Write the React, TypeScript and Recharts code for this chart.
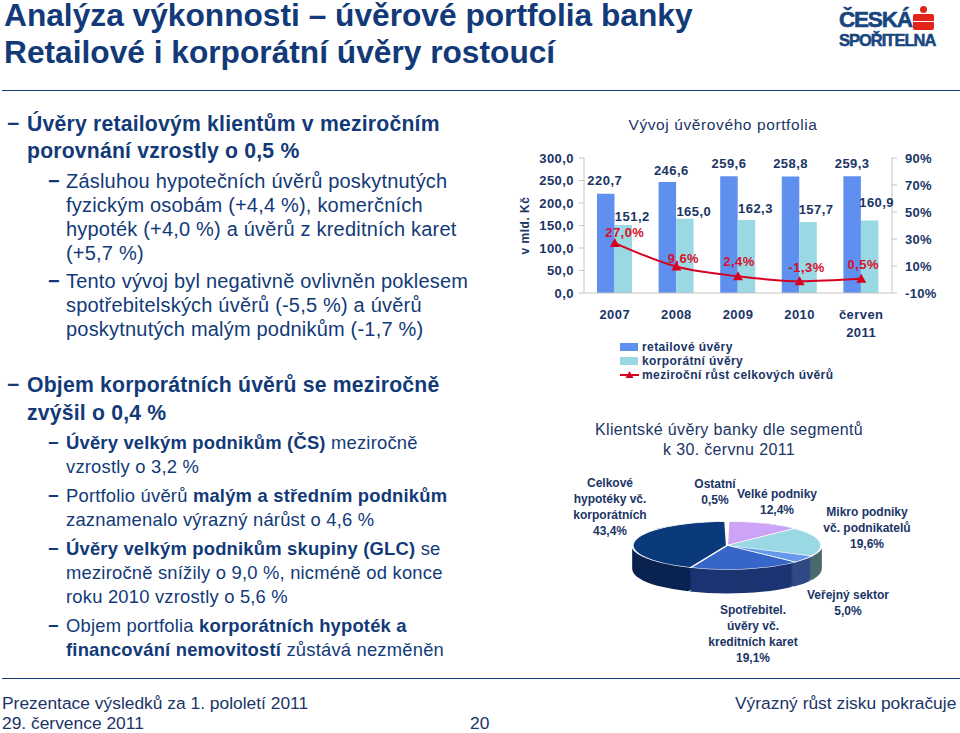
import { Bar, ComposedChart, LabelList, Legend, Line, Pie, PieChart, XAxis, YAxis } from "recharts"

const NAVY = "#1a3566"
const TITLE = "#123a78"
const FONT = "'Liberation Sans', Arial, sans-serif"

// combo chart data
const years = ["2007", "2008", "2009", "2010", "červen 2011"]
const retail = [220.7, 246.6, 259.6, 258.8, 259.3]
const corporate = [151.2, 165.0, 162.3, 157.7, 160.9]
const growth = [27.0, 9.6, 2.4, -1.3, 0.5]
const leftTicks = [0, 50, 100, 150, 200, 250, 300]
const rightTicks = [-10, 10, 30, 50, 70, 90]
const bandEdges = [0, 1, 2, 3, 4, 5]

// pie data, clockwise from the top
const segmentNames = [
  ["Ostatní"],
  ["Velké podniky"],
  ["Mikro podniky", "vč. podnikatelů"],
  ["Veřejný sektor"],
  ["Spotřebitel.", "úvěry vč.", "kreditních karet"],
  ["Celkové", "hypotéky vč.", "korporátních"],
]
const segmentValues = [0.5, 12.4, 19.6, 5.0, 19.1, 43.4]
const segmentTop = ["#ffffff", "#cda3f5", "#9ad8e4", "#6699ee", "#3566c8", "#0a3a7c"]
const segmentWall = ["#ffffff", "#7e5ca0", "#4c6a70", "#2f4a85", "#1c3472", "#0a2350"]

const comboData = years.map((year, i) => ({
  year,
  retail: retail[i],
  corporate: corporate[i],
  growth: growth[i],
}))
const pieData = segmentNames.map((n, i) => ({
  name: n.join(" "),
  value: segmentValues[i],
  fill: segmentTop[i],
}))
const wallData = pieData.map((d, i) => ({ ...d, fill: segmentWall[i] }))

// label nudges for the combo chart, as on the slide
const retailNudge = [[-1, -13], [4, -12], [0, -13], [0, -13], [0, -13]]
const corporateNudge = [[9, -8], [9, -7], [9, -11], [8, -13], [7, -18]]
const growthNudge = [[10, -11], [7, -8], [1, -15], [7, -14], [2, -14]]
// x center, first line y
const segmentLabelPos = [[715, 484], [777, 494], [867, 512], [848, 595], [753, 610], [610, 483]]

const comma = (v: number, digits = 1) => v.toFixed(digits).replace(".", ",")

type Run = { t: string; b?: boolean }
type BodyLine = { x: number; y: number; size: number; dash?: number; runs: Run[] }

const L1 = 21.2
const L2A = 20
const L2 = 18.4
const body: BodyLine[] = [
  { x: 27, y: 124, size: L1, dash: 7, runs: [{ t: "Úvěry retailovým klientům v meziročním", b: true }] },
  { x: 27, y: 151, size: L1, runs: [{ t: "porovnání vzrostly o 0,5 %", b: true }] },
  { x: 66, y: 181, size: L2A, dash: 48, runs: [{ t: "Zásluhou hypotečních úvěrů poskytnutých" }] },
  { x: 66, y: 205, size: L2A, runs: [{ t: "fyzickým osobám (+4,4 %), komerčních" }] },
  { x: 66, y: 229, size: L2A, runs: [{ t: "hypoték (+4,0 %) a úvěrů z kreditních karet" }] },
  { x: 66, y: 253, size: L2A, runs: [{ t: "(+5,7 %)" }] },
  { x: 66, y: 281, size: L2A, dash: 48, runs: [{ t: "Tento vývoj byl negativně ovlivněn poklesem" }] },
  { x: 66, y: 305, size: L2A, runs: [{ t: "spotřebitelských úvěrů (-5,5 %) a úvěrů" }] },
  { x: 66, y: 329, size: L2A, runs: [{ t: "poskytnutých malým podnikům (-1,7 %)" }] },
  { x: 27, y: 385, size: L1, dash: 7, runs: [{ t: "Objem korporátních úvěrů se meziročně", b: true }] },
  { x: 27, y: 413, size: L1, runs: [{ t: "zvýšil o 0,4 %", b: true }] },
  { x: 66, y: 443, size: L2, dash: 48, runs: [{ t: "Úvěry velkým podnikům (ČS) ", b: true }, { t: "meziročně" }] },
  { x: 66, y: 467, size: L2, runs: [{ t: "vzrostly o 3,2 %" }] },
  { x: 66, y: 496, size: L2, dash: 48, runs: [{ t: "Portfolio úvěrů " }, { t: "malým a středním podnikům", b: true }] },
  { x: 66, y: 520, size: L2, runs: [{ t: "zaznamenalo výrazný nárůst o 4,6 %" }] },
  { x: 66, y: 549, size: L2, dash: 48, runs: [{ t: "Úvěry velkým podnikům skupiny (GLC) ", b: true }, { t: "se" }] },
  { x: 66, y: 573, size: L2, runs: [{ t: "meziročně snížily o 9,0 %, nicméně od konce" }] },
  { x: 66, y: 597, size: L2, runs: [{ t: "roku 2010 vzrostly o 5,6 %" }] },
  { x: 66, y: 626, size: L2, dash: 48, runs: [{ t: "Objem portfolia " }, { t: "korporátních hypoték a", b: true }] },
  { x: 66, y: 650, size: L2, runs: [{ t: "financování nemovitostí ", b: true }, { t: "zůstává nezměněn" }] },
]

function Txt({ x, y, size, bold, color = NAVY, center, spacing = 0, leading = 1.2, children }: any) {
  return (
    <div
      style={{
        position: "absolute",
        left: x,
        top: y,
        fontSize: size,
        fontWeight: bold ? 700 : 400,
        color,
        letterSpacing: spacing,
        whiteSpace: "pre",
        lineHeight: leading,
        transform: center ? "translate(-50%,-50%)" : "translateY(-50%)",
      }}
    >
      {children}
    </div>
  )
}

const chartText = { fontFamily: FONT, fontSize: 13, fontWeight: 700, letterSpacing: 0.45, fill: NAVY }

function nudgedLabel(nudge: number[][], format: (v: number) => string, color: string) {
  return (props: any) => {
    const { x, y, width = 0, value, index } = props
    return (
      <text
        x={x + width / 2 + nudge[index][0]}
        y={y + nudge[index][1]}
        textAnchor="middle"
        dominantBaseline="central"
        {...chartText}
        fill={color}
      >
        {format(value)}
      </text>
    )
  }
}

function YearTick({ x, y, payload }: any) {
  const parts = String(payload.value).split(" ")
  return (
    <text textAnchor="middle" {...chartText}>
      {parts.map((p, i) => (
        <tspan key={p} x={x} y={y + 18 + i * 18}>{p}</tspan>
      ))}
    </text>
  )
}

function Triangle({ cx, cy }: any) {
  return <path d={`M${cx} ${cy - 5}L${cx + 5} ${cy + 4}L${cx - 5} ${cy + 4}Z`} fill="#d8001f" />
}

function LegendBox({ payload }: any) {
  return (
    <div>
      {(payload ?? []).map((item: any) => (
        <div key={item.value} style={{ position: "relative", height: 14, width: 260, paddingLeft: 22, fontSize: 12, fontWeight: 700, letterSpacing: 0.4, color: NAVY, lineHeight: "14px", whiteSpace: "nowrap" }}>
          {item.type === "line" ? (
            <svg width={20} height={14} style={{ position: "absolute", left: 0, top: 0 }}>
              <path d="M0 7H19" stroke="#d8001f" strokeWidth={2} />
              <path d="M9.5 3L13.5 10H5.5Z" fill="#d8001f" />
            </svg>
          ) : (
            <div style={{ position: "absolute", left: 0, top: 3, width: 18, height: 8, background: item.color }} />
          )}
          {item.value}
        </div>
      ))}
    </div>
  )
}

function PortfolioChart() {
  return (
    <div style={{ position: "absolute", left: 510, top: 130 }}>
      <ComposedChart
        width={450}
        height={260}
        data={comboData}
        margin={{ top: 28, right: 0, bottom: 18, left: 0 }}
        barSize={17.5}
        barGap={0}
      >
        {/* tick marks sit on the category edges, so they get their own numeric axis */}
        <XAxis xAxisId="edges" type="number" domain={[0, 5]} ticks={bandEdges} height={0} tick={() => <g />} tickSize={4} axisLine={false} stroke="#c4c4c4" />
        <XAxis dataKey="year" interval={0} tick={<YearTick />} tickLine={false} axisLine={{ stroke: "#c4c4c4" }} height={37} />
        <YAxis
          yAxisId="left"
          width={74}
          domain={[0, 300]}
          ticks={leftTicks}
          tickFormatter={(v: number) => comma(v)}
          tick={chartText}
          tickSize={5}
          tickMargin={5}
          stroke="#c4c4c4"
          label={{ value: "v mld. Kč", angle: -90, position: "insideLeft", offset: 15, style: { ...chartText, fontSize: 12, letterSpacing: 0.5, textAnchor: "middle" } }}
        />
        <YAxis
          yAxisId="right"
          orientation="right"
          width={68}
          domain={[-10, 90]}
          ticks={rightTicks}
          tickFormatter={(v: number) => `${v}%`}
          tick={{ ...chartText, letterSpacing: 0.3, textAnchor: "start" }}
          tickSize={5}
          tickMargin={8}
          stroke="#c4c4c4"
        />
        <Bar yAxisId="left" dataKey="retail" name="retailové úvěry" fill="#5f90f0" legendType="rect" isAnimationActive={false}>
          <LabelList dataKey="retail" content={nudgedLabel(retailNudge, (v) => comma(v), NAVY)} />
        </Bar>
        <Bar yAxisId="left" dataKey="corporate" name="korporátní úvěry" fill="#9ad8e4" legendType="rect" isAnimationActive={false}>
          <LabelList dataKey="corporate" content={nudgedLabel(corporateNudge, (v) => comma(v), NAVY)} />
        </Bar>
        <Line yAxisId="right" type="monotone" dataKey="growth" name="meziroční růst celkových úvěrů" stroke="#d8001f" strokeWidth={2} dot={<Triangle />} legendType="line" isAnimationActive={false}>
          <LabelList dataKey="growth" content={nudgedLabel(growthNudge, (v) => `${comma(v)}%`, "#d8102a")} />
        </Line>
        <Legend content={<LegendBox />} itemSorter={null} wrapperStyle={{ position: "absolute", left: 110, top: 210, width: 280 }} />
      </ComposedChart>
    </div>
  )
}

function SegmentPie() {
  const depth = Array.from({ length: 25 }, (_, i) => 24 - i)
  return (
    <div style={{ position: "absolute", left: 627, top: 519.6, transform: "scaleY(0.254)", transformOrigin: "top left" }}>
      <PieChart width={200} height={320} margin={{ top: 0, right: 0, bottom: 0, left: 0 }}>
        {depth.map((d) => (
          <Pie
            key={d}
            data={wallData}
            dataKey="value"
            cx={100}
            cy={100 + d * 3.95}
            outerRadius={94.5}
            startAngle={91}
            endAngle={-269}
            paddingAngle={1}
            stroke="none"
            isAnimationActive={false}
          />
        ))}
        <Pie
          data={pieData}
          dataKey="value"
          cx={100}
          cy={100}
          outerRadius={94.5}
          startAngle={91}
          endAngle={-269}
          stroke="#ffffff"
          strokeWidth={2.2}
          isAnimationActive={false}
        />
      </PieChart>
    </div>
  )
}

function Logo() {
  return (
    <>
      <div style={{ position: "absolute", left: 839, top: 8, fontSize: 22.5, fontWeight: 700, letterSpacing: -1.2, color: "#17467f", lineHeight: "24px", WebkitTextStroke: "0.6px #17467f" }}>ČESKÁ</div>
      <div style={{ position: "absolute", left: 839, top: 31, fontSize: 16.5, fontWeight: 700, letterSpacing: -1, color: "#17467f", lineHeight: "18px", WebkitTextStroke: "0.5px #17467f" }}>SPOŘITELNA</div>
      <div style={{ position: "absolute", left: 920, top: 6, width: 7, height: 7, borderRadius: 4, background: "#e2231a" }} />
      <div style={{ position: "absolute", left: 913, top: 14, width: 21, height: 7, background: "#e2231a", borderRadius: "2px 2px 0 0" }} />
      <div style={{ position: "absolute", left: 913, top: 22, width: 21, height: 8, background: "#e2231a", borderRadius: "0 0 2px 2px" }} />
    </>
  )
}

export default function App() {
  return (
    <div style={{ position: "absolute", left: 0, top: 0, width: 960, height: 733, background: "#fff", overflow: "hidden", fontFamily: FONT }}>
      <Txt x={4} y={15} size={31.7} bold color={TITLE} leading={0.9}>{"Analýza výkonnosti – úvěrové portfolia banky"}</Txt>
      <Txt x={4} y={52} size={31.7} bold color={TITLE} leading={0.9}>Retailové i korporátní úvěry rostoucí</Txt>
      <Logo />
      <div style={{ position: "absolute", left: 2, top: 90, width: 958, height: 1, background: "#123a78" }} />
      <div style={{ position: "absolute", left: 2, top: 678, width: 958, height: 1, background: "#123a78" }} />

      {body.map((line, i) => (
        <div key={i}>
          {line.dash !== undefined && <Txt x={line.dash} y={line.y} size={line.size} bold color={TITLE}>−</Txt>}
          <Txt x={line.x} y={line.y} size={line.size} color={TITLE} spacing={0.2}>
            {line.runs.map((r, j) => (
              <span key={j} style={{ fontWeight: r.b ? 700 : 400 }}>{r.t}</span>
            ))}
          </Txt>
        </div>
      ))}

      <Txt x={723} y={125} size={15.5} center spacing={0.6}>Vývoj úvěrového portfolia</Txt>
      <PortfolioChart />

      <Txt x={729} y={430} size={16} center spacing={0.35}>Klientské úvěry banky dle segmentů</Txt>
      <Txt x={729} y={450} size={16} center spacing={0.35}>k 30. červnu 2011</Txt>
      <SegmentPie />
      {segmentNames.map((lines, i) => (
        <div key={i}>
          {[...lines, `${comma(segmentValues[i])}%`].map((text, j) => (
            <Txt key={j} x={segmentLabelPos[i][0]} y={segmentLabelPos[i][1] + j * 16} size={12} bold center>{text}</Txt>
          ))}
        </div>
      ))}

      <Txt x={2} y={703} size={17.4}>Prezentace výsledků za 1. pololetí 2011</Txt>
      <Txt x={2} y={723} size={17.4}>29. července 2011</Txt>
      <Txt x={470} y={723} size={17.4}>20</Txt>
      <Txt x={735} y={703} size={17.4}>Výrazný růst zisku pokračuje</Txt>
    </div>
  )
}
